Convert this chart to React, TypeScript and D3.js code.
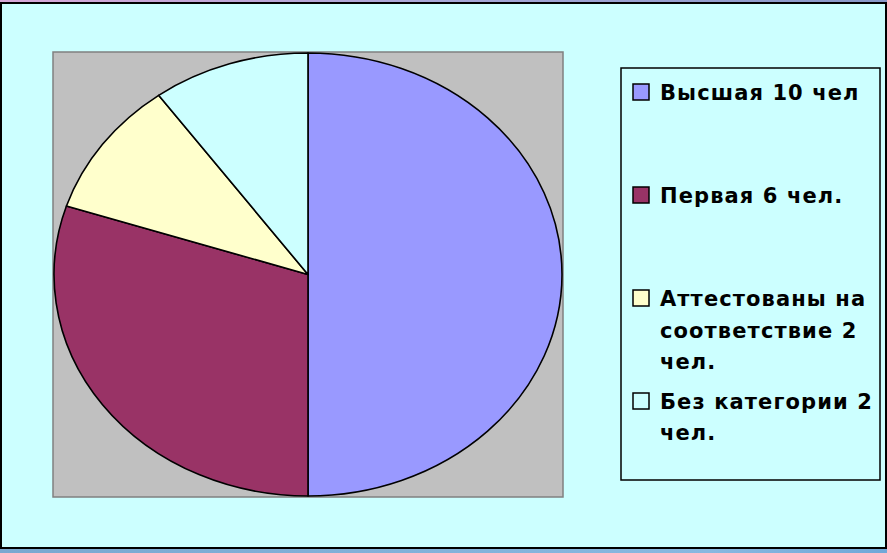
import React from "react";
import * as d3 from "d3";

const categories = ["Высшая 10 чел", "Первая 6 чел.", "Аттестованы на соответствие 2 чел.", "Без категории 2 чел."];
const values = [10, 6, 2, 2];
const colors = ["#9999FF", "#993366", "#FFFFCC", "#CCFFFF"];
const legendLines = [["Высшая 10 чел"], ["Первая 6 чел."], ["Аттестованы на", "соответствие 2", "чел."], ["Без категории 2", "чел."]];

const W = 887, H = 553;
const plot = { x: 53, y: 52, w: 510, h: 445 };
const legendBaselines = [[100], [203], [306, 338, 369], [409, 440]];

export default function App() {
  const cx = plot.x + plot.w / 2;
  const cy = plot.y + plot.h / 2;
  const rx = plot.w / 2 - 1;
  const ry = plot.h / 2 - 1;
  const pie = d3.pie<number>().sort(null).value((d) => d)(values);
  const arc = d3.arc<d3.PieArcDatum<number>>().innerRadius(0).outerRadius(1);
  return (
    <svg width={W} height={H} style={{ position: "absolute", left: 0, top: 0 }} fontFamily="DejaVu Sans, Verdana, sans-serif">
      <defs>
        <linearGradient id="topg" x1="0" x2="1" y1="0" y2="0">
          <stop offset="0" stopColor="#d8a8d8" />
          <stop offset="0.5" stopColor="#a8a8d8" />
          <stop offset="1" stopColor="#8898c8" />
        </linearGradient>
        <linearGradient id="botg" x1="0" x2="1" y1="0" y2="0">
          <stop offset="0" stopColor="#7aa8d0" />
          <stop offset="0.8" stopColor="#88b8e0" />
          <stop offset="1" stopColor="#70a8d8" />
        </linearGradient>
      </defs>
      <rect x={0} y={0} width={W} height={H} fill="#88b0d8" />
      <rect x={0} y={0} width={W} height={4} fill="url(#topg)" />
      <rect x={0} y={545} width={W} height={8} fill="url(#botg)" />
      <rect x={1} y={3} width={885} height={545} fill="#CCFFFF" stroke="#000" strokeWidth={2} />
      <rect x={plot.x} y={plot.y} width={plot.w} height={plot.h} fill="#C0C0C0" stroke="#808080" strokeWidth={1.5} />
      <g transform={`translate(${cx},${cy}) scale(${rx},${ry})`}>
        {pie.map((p, i) => (
          <path key={i} d={arc(p) || ""} fill={colors[i]} stroke="#000" strokeWidth={1.6} vectorEffect="non-scaling-stroke" strokeLinejoin="round" />
        ))}
      </g>
      <rect x={621} y={68} width={259} height={412} fill="#CCFFFF" stroke="#000" strokeWidth={1.5} />
      {categories.map((c, i) => (
        <g key={c}>
          <rect x={633} y={legendBaselines[i][0] - 16} width={16} height={16} fill={colors[i]} stroke="#000" strokeWidth={1.5} />
          {legendLines[i].map((l, j) => (
            <text key={j} x={660} y={legendBaselines[i][j]} fontSize={21} letterSpacing={1.1} fontWeight="bold" fill="#000">{l}</text>
          ))}
        </g>
      ))}
    </svg>
  );
}
